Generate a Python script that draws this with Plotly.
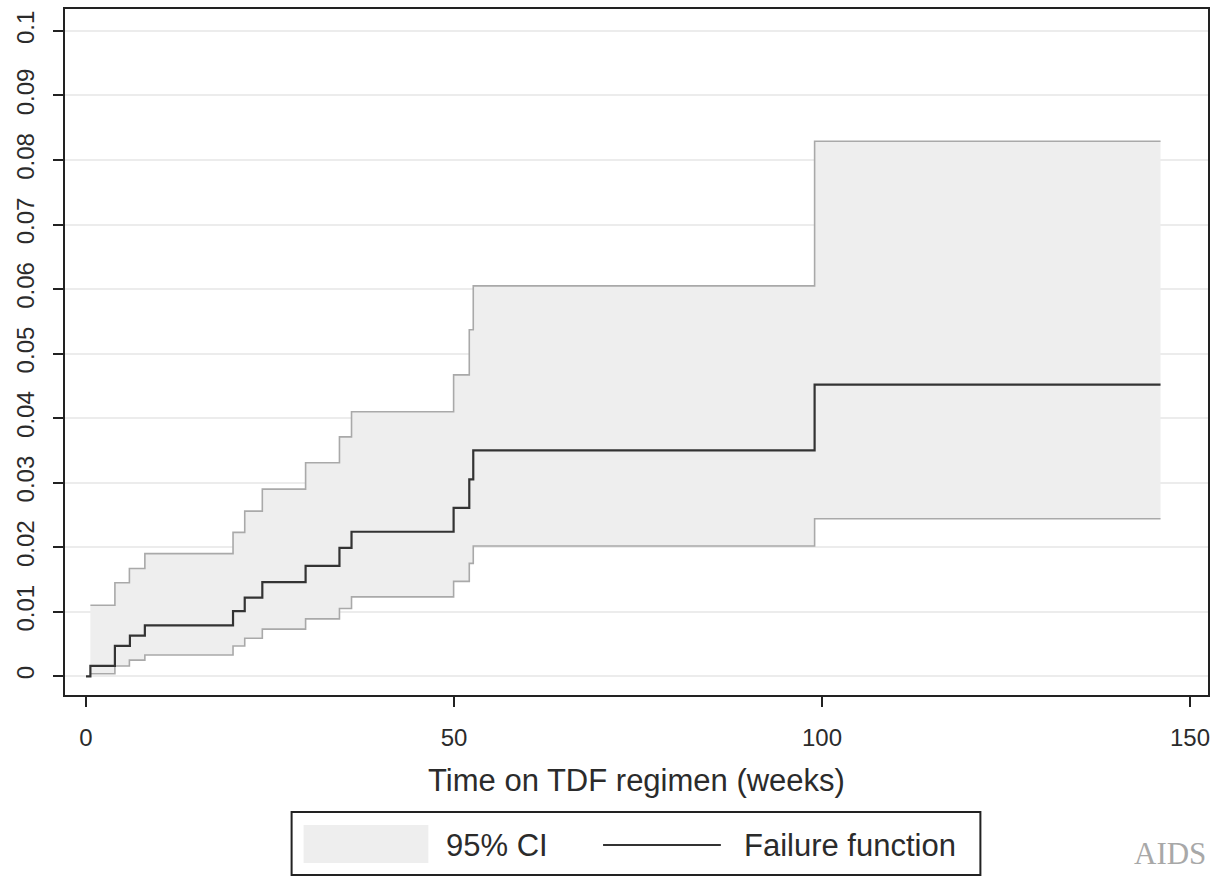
import plotly.graph_objects as go

# Failure function (Kaplan-Meier 1 - S)
fail_time = [0, 0.6, 3.93, 5.97, 8.0, 19.98, 21.57, 23.96, 29.84, 34.44, 36.08, 49.95, 52.08, 52.62, 99.0, 146.0]
fail_val = [0, 0.0016, 0.0047, 0.0063, 0.0079, 0.0101, 0.0122, 0.0146, 0.0171, 0.0199, 0.0224,
            0.0261, 0.0305, 0.0350, 0.0452, 0.0452]

# 95% confidence interval
ci_time = [0.6, 3.93, 5.9, 8.0, 19.98, 21.57, 23.96, 29.84, 34.44, 36.08, 49.95, 52.08, 52.62, 99.0, 146.0]
ci_lower = [0.0004, 0.0016, 0.0025, 0.0033, 0.0047, 0.0059, 0.0073, 0.0089, 0.0105, 0.0123,
            0.0147, 0.0175, 0.0202, 0.0244, 0.0244]
ci_upper = [0.0110, 0.0145, 0.0167, 0.0190, 0.0223, 0.0256, 0.0290, 0.0331, 0.0371, 0.0410,
            0.0467, 0.0537, 0.0605, 0.0829, 0.0829]

x_ticks = [0, 50, 100, 150]
y_ticks = [0, 0.01, 0.02, 0.03, 0.04, 0.05, 0.06, 0.07, 0.08, 0.09, 0.1]
y_tick_labels = ["0", "0.01", "0.02", "0.03", "0.04", "0.05", "0.06", "0.07", "0.08", "0.09", "0.1"]

FONT = "Liberation Sans, Arial, sans-serif"
TXT = "#2b2b2b"
CI_LINE = "#a9a9a9"
CI_FILL = "#eeeeee"

fig = go.Figure()
fig.add_trace(go.Scatter(x=ci_time, y=ci_lower, mode="lines", line=dict(shape="hv", color=CI_LINE, width=1.6),
                         showlegend=False, hoverinfo="skip"))
fig.add_trace(go.Scatter(x=ci_time, y=ci_upper, mode="lines", line=dict(shape="hv", color=CI_LINE, width=1.6),
                         fill="tonexty", fillcolor=CI_FILL, name="95% CI", showlegend=False))
fig.add_trace(go.Scatter(x=fail_time, y=fail_val, mode="lines", line=dict(shape="hv", color="#333333", width=2.2),
                         name="Failure function", showlegend=False))

L, R, T, B = 65, 1210, 9, 695
PW, PH = R - L, B - T

fig.update_layout(
    width=1217, height=878,
    margin=dict(l=L, r=1217 - R, t=T, b=878 - B),
    paper_bgcolor="white", plot_bgcolor="white",
    font=dict(family=FONT, color=TXT, size=24),
    xaxis=dict(range=[-2.85, 152.45], tickvals=x_ticks, ticks="outside", ticklen=10, tickwidth=1.5,
               tickcolor="#222", showgrid=False, zeroline=False, showline=True, linecolor="#222",
               linewidth=2, mirror=True, tickfont=dict(size=24, color=TXT), ticklabelstandoff=10,
               title=dict(text="Time on TDF regimen (weeks)", font=dict(size=31, color=TXT), standoff=20)),
    yaxis=dict(range=[-0.0029, 0.1034], tickvals=y_ticks, ticktext=y_tick_labels, tickangle=-90,
               ticks="outside", ticklen=10, tickwidth=1.5, tickcolor="#222", showgrid=True,
               gridcolor="#ececec", gridwidth=1.5, zeroline=False, showline=True, linecolor="#222",
               linewidth=2, mirror=True, tickfont=dict(size=24, color=TXT), ticklabelstandoff=9),
)


def px(xp):
    return (xp - L) / PW


def py(yp):
    return (B - yp) / PH


shapes = [
    dict(type="rect", xref="paper", yref="paper", x0=px(292), x1=px(982), y0=py(875), y1=py(812),
         line=dict(color="#222", width=2), fillcolor="white"),
    dict(type="rect", xref="paper", yref="paper", x0=px(304), x1=px(429), y0=py(863), y1=py(825),
         line=dict(width=0), fillcolor=CI_FILL),
    dict(type="line", xref="paper", yref="paper", x0=px(604), x1=px(722), y0=py(845), y1=py(845),
         line=dict(color="#333333", width=2)),
]
fig.update_layout(shapes=shapes)
fig.add_annotation(xref="paper", yref="paper", x=px(445), y=py(845),
                   text="95% CI", showarrow=False, xanchor="left", yanchor="middle",
                   font=dict(size=31, color=TXT, family=FONT))
fig.add_annotation(xref="paper", yref="paper", x=px(743), y=py(845),
                   text="Failure function", showarrow=False, xanchor="left", yanchor="middle",
                   font=dict(size=31, color=TXT, family=FONT))
fig.add_annotation(xref="paper", yref="paper", x=px(1210), y=py(853),
                   text="AIDS", showarrow=False, xanchor="right", yanchor="middle",
                   font=dict(size=31, color="#a8a8a8", family="Liberation Serif, DejaVu Serif, serif"))

fig.write_html("out.html")
